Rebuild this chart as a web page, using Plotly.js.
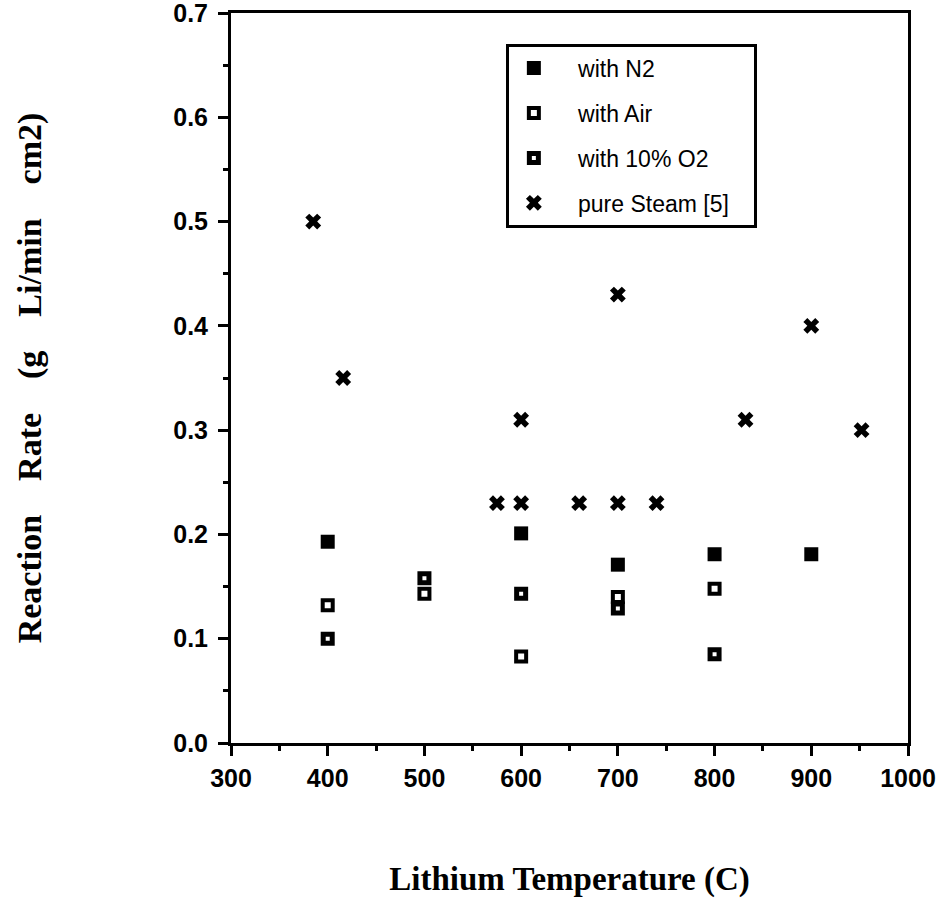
<!DOCTYPE html>
<html>
<head>
<meta charset="utf-8">
<script src="https://cdn.plot.ly/plotly-3.0.1.min.js"></script>
<style>html,body{margin:0;padding:0;background:#fff;}#chart{width:938px;height:899px;}</style>
</head>
<body>
<div id="chart"></div>
<script>
// Data
const n2Temp = [400, 600, 700, 800, 900];
const n2Rate = [0.193, 0.201, 0.171, 0.181, 0.181];
const airTemp = [400, 500, 600, 700, 800];
const airRate = [0.132, 0.143, 0.083, 0.140, 0.148];
const o2Temp = [400, 500, 600, 700, 800];
const o2Rate = [0.100, 0.158, 0.143, 0.129, 0.085];
const steamTemp = [385, 416, 575, 600, 600, 660, 700, 700, 740, 832, 900, 952];
const steamRate = [0.50, 0.35, 0.23, 0.23, 0.31, 0.23, 0.23, 0.43, 0.23, 0.31, 0.40, 0.30];
const seriesNames = ['with N2', 'with Air', 'with 10% O2', 'pure Steam [5]'];

const pad = '\u00a0\u00a0\u00a0';
const tail = '\u00a0\u00a0\u00a0';
const traces = [
  {x: n2Temp, y: n2Rate, name: pad + seriesNames[0], legendgroup: 'a', type: 'scatter', mode: 'markers',
   marker: {symbol: 'square', size: 14, color: '#000', line: {width: 0}}},
  {x: airTemp, y: airRate, name: pad + seriesNames[1], legendgroup: 'b', type: 'scatter', mode: 'markers',
   marker: {symbol: 'square-open', size: 10, color: '#000', line: {color: '#000', width: 4}}},
  {x: o2Temp, y: o2Rate, name: pad + seriesNames[2], legendgroup: 'c', type: 'scatter', mode: 'markers',
   marker: {symbol: 'square-open', size: 9, color: '#000', line: {color: '#000', width: 5}}},
  {x: steamTemp, y: steamRate, name: pad + seriesNames[3] + tail, legendgroup: 'd', type: 'scatter', mode: 'markers',
   marker: {symbol: 'x', size: 14, color: '#000', line: {width: 0}}}
];

const tickFont = {family: 'Liberation Sans, Arial, sans-serif', size: 25, color: '#000', weight: 'bold'};
const titleFont = {family: 'Liberation Serif, Times New Roman, serif', size: 33, color: '#000', weight: 'bold'};
const yTitleFont = {family: 'Liberation Serif, Times New Roman, serif', size: 34, color: '#000', weight: 'bold'};
const sp = '\u00a0\u00a0\u00a0';

const layout = {
  width: 938, height: 899,
  margin: {l: 231, r: 30, t: 13, b: 156},
  paper_bgcolor: '#fff', plot_bgcolor: '#fff',
  showlegend: true,
  legend: {
    x: 0.406, y: 0.958, xanchor: 'left', yanchor: 'top',
    bgcolor: '#fff', bordercolor: '#000', borderwidth: 3,
    font: {family: 'Liberation Sans, Arial, sans-serif', size: 23, color: '#000'},
    traceorder: 'grouped', tracegroupgap: 12, itemwidth: 40
  },
  xaxis: {
    range: [300, 1000], dtick: 100, tick0: 300,
    showgrid: false, zeroline: false,
    showline: true, linecolor: '#000', linewidth: 3, mirror: true,
    ticks: 'outside', ticklen: 10, tickwidth: 3, tickcolor: '#000',
    minor: {dtick: 50, ticks: 'outside', ticklen: 5, tickwidth: 3, tickcolor: '#000', showgrid: false},
    tickfont: tickFont, ticklabelstandoff: 1, ticklabeloverflow: 'allow',
    title: {text: 'Lithium Temperature (C)', font: titleFont, standoff: 76}
  },
  yaxis: {
    range: [0, 0.7], dtick: 0.1, tick0: 0, tickformat: '.1f',
    showgrid: false, zeroline: false,
    showline: true, linecolor: '#000', linewidth: 3, mirror: true,
    ticks: 'outside', ticklen: 10, tickwidth: 3, tickcolor: '#000',
    minor: {dtick: 0.05, ticks: 'outside', ticklen: 5, tickwidth: 3, tickcolor: '#000', showgrid: false},
    tickfont: tickFont, ticklabelstandoff: 5, ticklabeloverflow: 'allow',
    title: {text: 'Reaction' + sp + ' Rate' + sp + ' (g' + sp + ' Li/min' + sp + ' cm2)', font: yTitleFont, standoff: 122}
  }
};

Plotly.newPlot('chart', traces, layout, {staticPlot: true, displayModeBar: false});
</script>
</body>
</html>
